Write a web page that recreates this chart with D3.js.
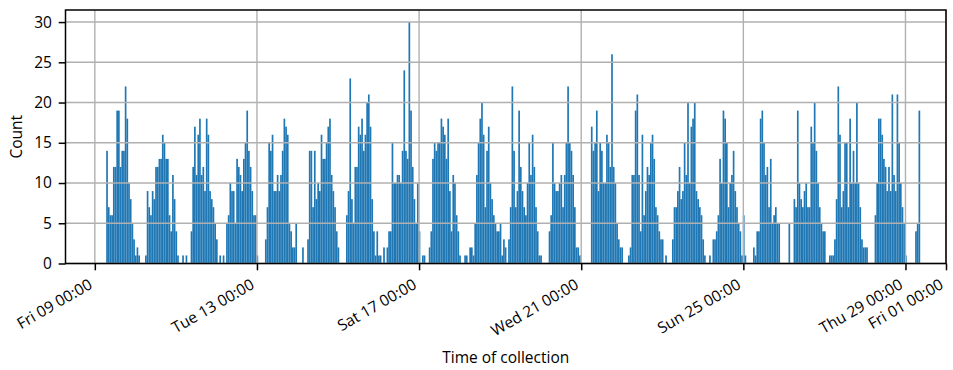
<!DOCTYPE html>
<html>
<head>
<meta charset="utf-8">
<script src="https://cdn.jsdelivr.net/npm/d3@7"></script>
<style>
  html, body { margin: 0; padding: 0; background: #fff; }
  svg { display: block; font-family: "Open Sans", "Noto Sans", sans-serif; }
</style>
</head>
<body>
<svg id="chart" width="953" height="370"></svg>
<script>
// Hourly collection counts. The first bin opens at 06:44 on Fri 9 Feb 2024;
// each array below holds consecutive one-hour bins, grouped roughly by day.
const firstBinStart = "2024-02-09T06:44:00Z";
const feb09 = [14,7,6,6,12,12,19,19,12,14,14,22,18,10,8,5,3];
const feb10 = [1,2,1,0,0,0,1,9,7,6,9,8,12,12,13,13,16,15,13,13,6,4,11,8];
const feb11 = [4,1,0,0,1,0,1,0,0,4,12,17,11,16,18,11,12,9,18,16,9,8,7,5];
const feb12 = [3,0,1,0,1,0,5,6,10,9,9,5,13,12,11,9,13,15,19,14,12,9,6,6];
const feb13 = [1,0,0,0,0,3,7,15,14,16,9,9,11,9,11,14,18,17,16,5,4,2,2,5];
const feb14 = [0,0,0,2,0,0,3,14,14,7,14,8,10,9,16,13,13,15,17,18,11,9,7,4];
const feb15 = [2,0,0,0,0,6,9,23,8,5,12,12,17,16,18,14,16,20,21,17,8,4,1,4];
const feb16 = [1,1,0,2,0,2,4,4,15,10,10,11,11,10,14,24,14,13,30,19,12,8,5,10];
const feb17 = [4,0,1,1,0,0,2,4,13,15,14,15,15,18,17,16,13,18,9,4,11,10,6,4];
const feb18 = [1,0,0,1,1,0,2,2,1,5,11,15,18,20,16,7,14,17,10,8,6,5,4,4];
const feb19 = [5,1,3,2,0,3,7,22,14,7,9,19,12,9,7,6,10,15,11,16,12,7,4,1];
const feb20 = [1,0,0,0,0,4,6,15,10,9,9,10,11,7,11,15,22,15,14,11,7,2,2,1];
const feb21 = [0,0,0,0,0,0,17,14,15,19,9,15,14,10,10,16,15,12,26,12,10,5,3,2];
const feb22 = [2,0,0,0,1,2,11,11,19,21,11,4,16,6,9,12,11,15,16,13,7,6,4,3];
const feb23 = [3,0,1,0,0,0,3,7,7,9,12,8,9,15,11,20,10,17,18,20,9,8,7,6];
const feb24 = [3,1,0,0,1,0,3,3,4,6,13,10,19,18,15,7,10,11,14,9,7,5,4,1];
const feb25 = [6,1,0,0,0,0,2,1,4,4,18,19,15,11,12,7,13,5,6,7,5,5,0,0];
const feb26 = [0,0,0,5,0,0,8,7,19,10,8,7,9,10,7,7,17,15,20,14,10,7,5,4];
const feb27 = [4,0,0,1,1,1,3,8,22,16,7,9,15,15,7,18,10,14,10,20,10,7,3,2];
const feb28 = [2,2,0,0,0,0,6,10,18,18,16,13,12,9,12,9,21,11,9,21,15,10,7,5];
const feb29 = [1,0,0,0,0,0,4,5,19];

const dailyCounts = [feb09, feb10, feb11, feb12, feb13, feb14, feb15, feb16, feb17, feb18,
                     feb19, feb20, feb21, feb22, feb23, feb24, feb25, feb26, feb27, feb28, feb29];

const xTickDates = ["2024-02-09T00:00:00Z", "2024-02-13T00:00:00Z", "2024-02-17T00:00:00Z",
                    "2024-02-21T00:00:00Z", "2024-02-25T00:00:00Z", "2024-02-29T00:00:00Z",
                    "2024-03-01T00:00:00Z"];
const xAxisEnd = "2024-03-01T00:00:00Z";
const yTicks = [0, 5, 10, 15, 20, 25, 30];
const xLabel = "Time of collection";
const yLabel = "Count";

// ---- layout ----
const W = 953, H = 370;
const plot = { left: 65.5, right: 946, top: 10, bottom: 263.5 };
const fontSize = 15.5;
const tickLen = 6.8, tickPad = 6.8;
const barColor = "#1f77b4";
const gridColor = "#b0b0b0";

const HOUR = 3600e3;
const t0 = Date.parse(firstBinStart);
const counts = dailyCounts.flat();
const bins = counts.map((c, i) => ({
  x0: new Date(t0 + i * HOUR),
  x1: new Date(t0 + (i + 1) * HOUR),
  count: c
}));
const span = bins[bins.length - 1].x1 - bins[0].x0;

const x = d3.scaleUtc()
  .domain([new Date(t0 - 0.05 * span), new Date(xAxisEnd)])
  .range([plot.left, plot.right]);

const yMax = d3.max(counts) * 1.05;
const y = d3.scaleLinear()
  .domain([0, yMax])
  .range([plot.bottom, plot.top]);

const svg = d3.select("#chart");
svg.append("rect").attr("width", W).attr("height", H).attr("fill", "#fff");

// bars
svg.append("g")
  .selectAll("rect")
  .data(bins.filter(d => d.count > 0))
  .join("rect")
  .attr("x", d => x(d.x0))
  .attr("width", d => x(d.x1) - x(d.x0))
  .attr("y", d => y(d.count))
  .attr("height", d => y(0) - y(d.count))
  .attr("fill", barColor);

// grid lines (drawn over the bars)
const grid = svg.append("g").attr("stroke", gridColor).attr("stroke-width", 1.4);
grid.selectAll("line.v")
  .data(xTickDates.map(d => new Date(d)))
  .join("line")
  .attr("class", "v")
  .attr("x1", d => x(d)).attr("x2", d => x(d))
  .attr("y1", plot.top).attr("y2", plot.bottom);
grid.selectAll("line.h")
  .data(yTicks)
  .join("line")
  .attr("class", "h")
  .attr("x1", plot.left).attr("x2", plot.right)
  .attr("y1", d => y(d)).attr("y2", d => y(d));

// axes
const fmt = d3.utcFormat("%a %d %H:%M");
const xAxis = d3.axisBottom(x)
  .tickValues(xTickDates.map(d => new Date(d)))
  .tickFormat(fmt)
  .tickSizeInner(tickLen).tickSizeOuter(0).tickPadding(tickPad);
const gx = svg.append("g")
  .attr("transform", `translate(0,${plot.bottom})`)
  .call(xAxis);
gx.select(".domain").remove();
gx.selectAll(".tick line").attr("stroke", "#000").attr("stroke-width", 1.5);
gx.selectAll(".tick text")
  .attr("font-size", fontSize)
  .attr("font-family", "'Open Sans', 'Noto Sans', sans-serif")
  .attr("fill", "#000")
  .attr("text-anchor", "end")
  .attr("dy", null)
  .attr("y", null)
  .attr("transform", `translate(-2,${tickLen + tickPad + 10.5}) rotate(-30)`);

const yAxis = d3.axisLeft(y)
  .tickValues(yTicks)
  .tickFormat(d3.format("d"))
  .tickSizeInner(tickLen).tickSizeOuter(0).tickPadding(tickPad);
const gy = svg.append("g")
  .attr("transform", `translate(${plot.left},0)`)
  .call(yAxis);
gy.select(".domain").remove();
gy.selectAll(".tick line").attr("stroke", "#000").attr("stroke-width", 1.5);
gy.selectAll(".tick text")
  .attr("font-size", fontSize)
  .attr("font-family", "'Open Sans', 'Noto Sans', sans-serif")
  .attr("fill", "#000");

// frame
svg.append("rect")
  .attr("x", plot.left).attr("y", plot.top)
  .attr("width", plot.right - plot.left).attr("height", plot.bottom - plot.top)
  .attr("fill", "none").attr("stroke", "#000").attr("stroke-width", 1.5);

// axis titles
svg.append("text")
  .attr("x", (plot.left + plot.right) / 2).attr("y", 363)
  .attr("text-anchor", "middle")
  .attr("font-size", fontSize)
  .text(xLabel);
svg.append("text")
  .attr("transform", `translate(21.5,${(plot.top + plot.bottom) / 2}) rotate(-90)`)
  .attr("text-anchor", "middle")
  .attr("font-size", fontSize)
  .text(yLabel);
</script>
</body>
</html>
